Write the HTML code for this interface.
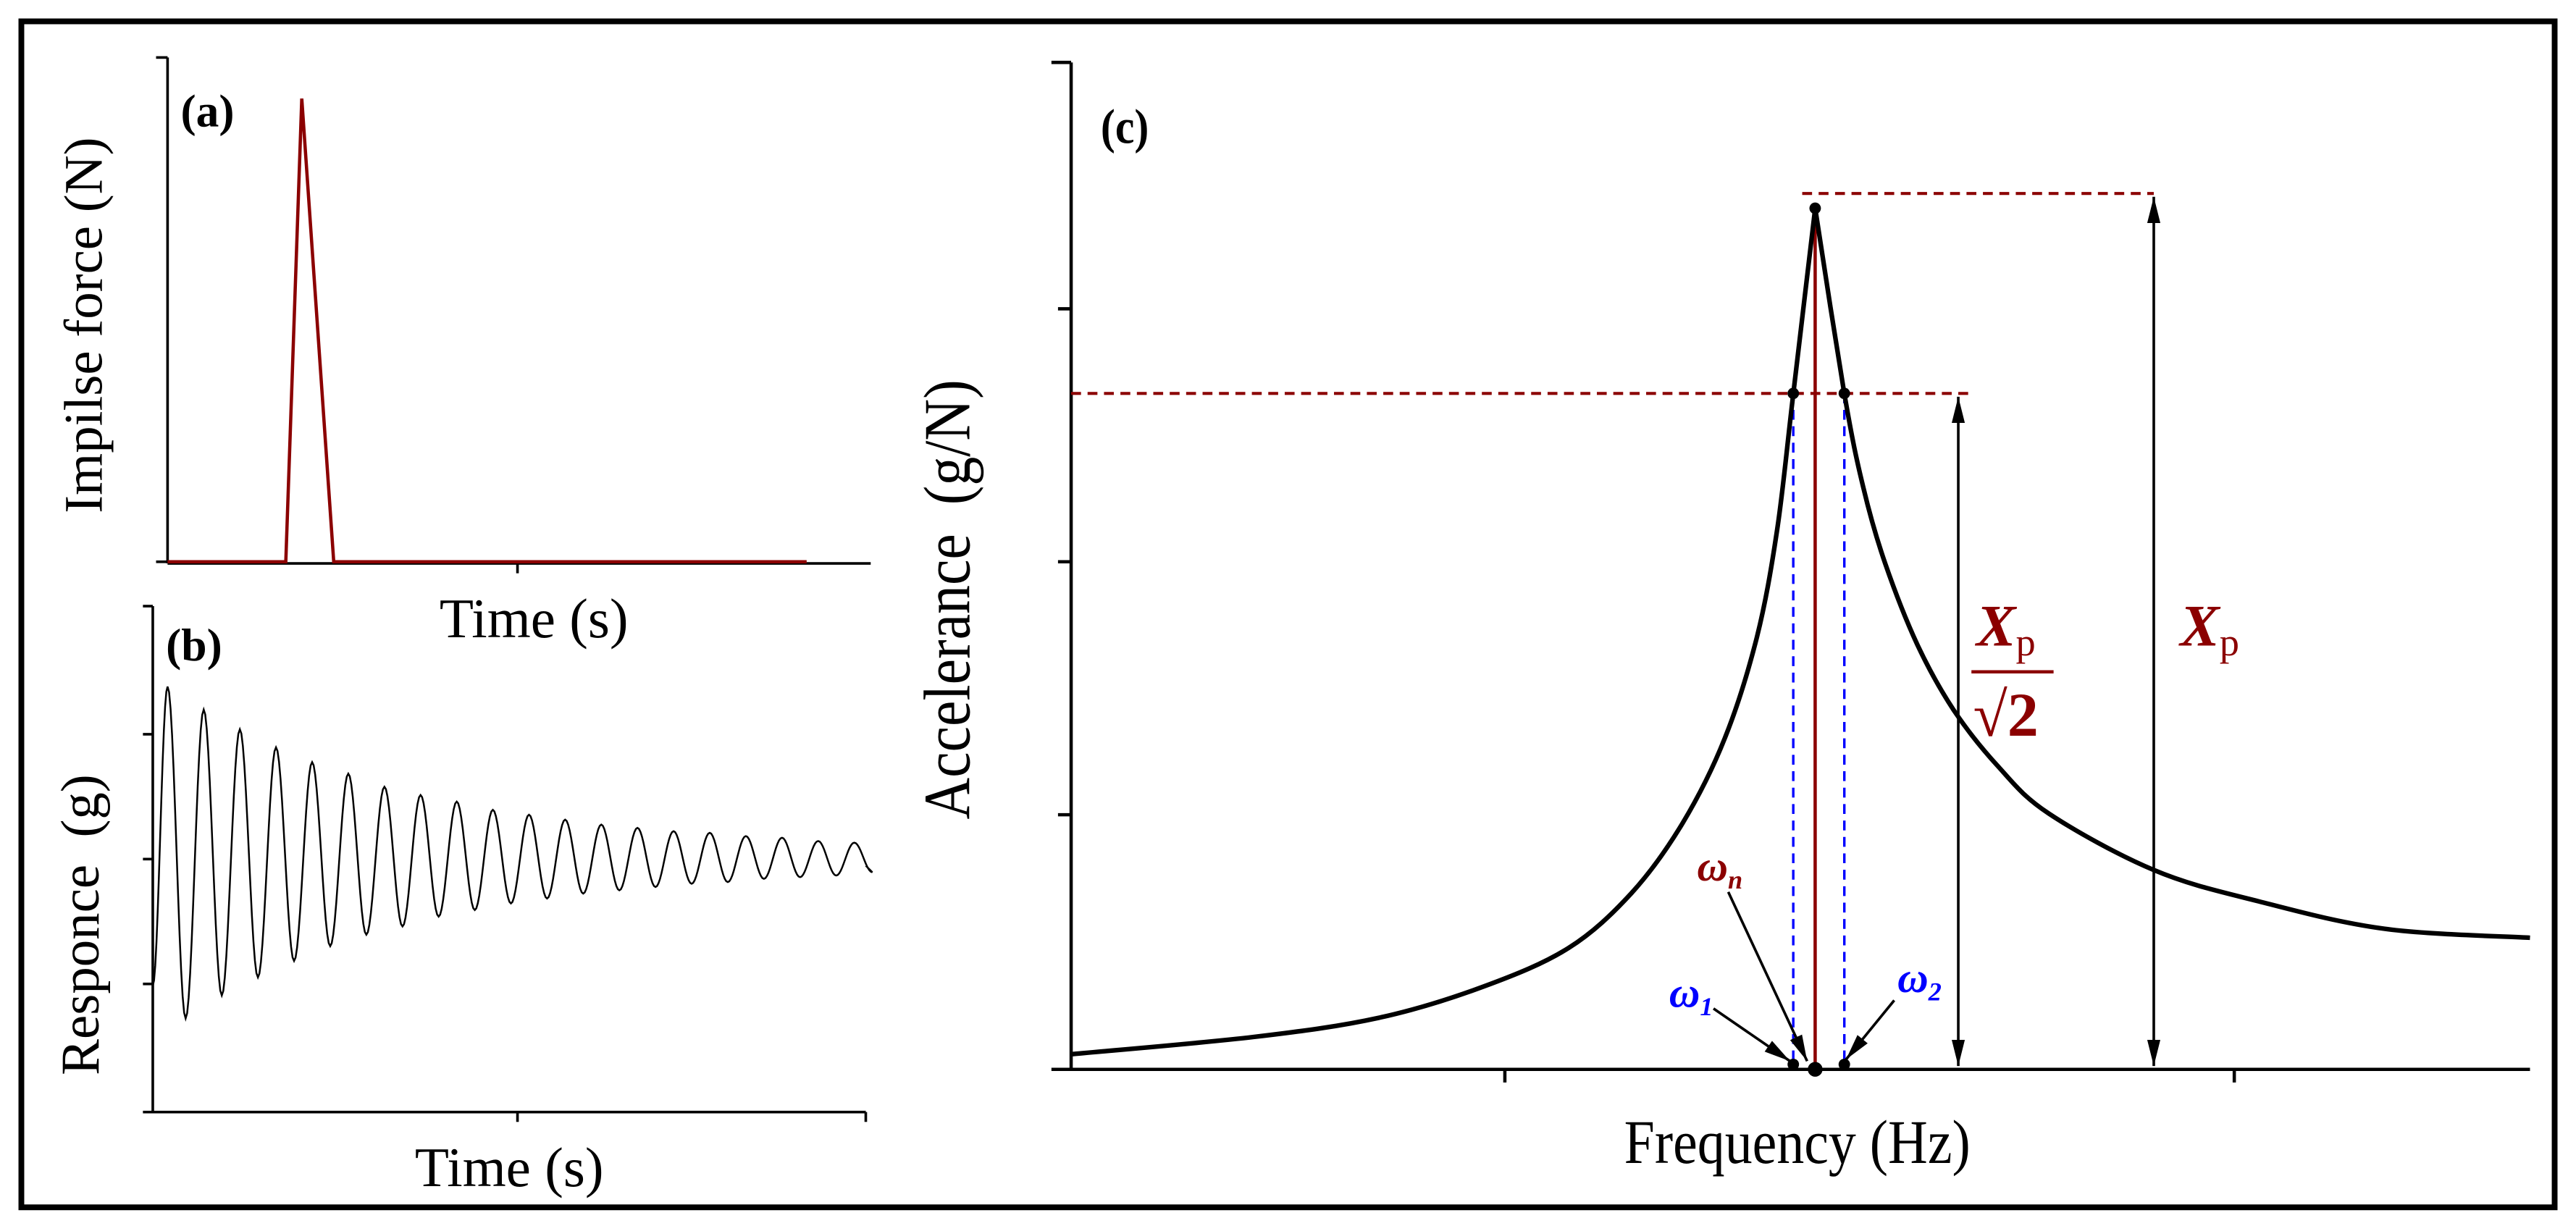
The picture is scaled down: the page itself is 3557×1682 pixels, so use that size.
<!DOCTYPE html>
<html><head><meta charset="utf-8"><style>
html,body{margin:0;padding:0;background:#fff}
svg{display:block}
text{font-family:"Liberation Serif",serif;white-space:pre}
</style></head><body>
<svg id="fig" width="3557" height="1682" viewBox="0 0 1568 741.5" preserveAspectRatio="none" xmlns="http://www.w3.org/2000/svg" xml:space="preserve">
<defs>
<marker id="ahb" viewBox="0 0 10 10" refX="10" refY="5" markerWidth="16" markerHeight="16" markerUnits="userSpaceOnUse" orient="auto-start-reverse"><path d="M0,2.5 L10,5 L0,7.5 z" fill="#000"/></marker>
</defs>
<rect x="13" y="13" width="1542" height="722" fill="none" stroke="#000" stroke-width="3.5"/>

<g>
<line x1="102" y1="35" x2="102" y2="343" stroke="#000" stroke-width="1.6"/>
<line x1="102" y1="343" x2="530" y2="343" stroke="#000" stroke-width="1.6"/>
<line x1="95" y1="35" x2="102" y2="35" stroke="#000" stroke-width="1.6"/>
<line x1="95" y1="342" x2="102" y2="342" stroke="#000" stroke-width="1.6"/>
<line x1="315" y1="343" x2="315" y2="349" stroke="#000" stroke-width="1.6"/>
<polyline id="impulse" fill="none" stroke="#8b0000" stroke-width="2"/>
<text x="110" y="77" font-size="28" font-weight="bold">(a)</text>
<text transform="translate(62,198) rotate(-90)" text-anchor="middle" font-size="33">Impilse force (N)</text>
<text x="325" y="388" text-anchor="middle" font-size="34">Time (s)</text>
</g>

<g>
<line x1="93" y1="369" x2="93" y2="677" stroke="#000" stroke-width="1.6"/>
<line x1="87" y1="677" x2="527" y2="677" stroke="#000" stroke-width="1.6"/>
<line x1="87" y1="369" x2="93" y2="369" stroke="#000" stroke-width="1.6"/>
<line x1="87" y1="447" x2="93" y2="447" stroke="#000" stroke-width="1.6"/>
<line x1="87" y1="523" x2="93" y2="523" stroke="#000" stroke-width="1.6"/>
<line x1="87" y1="599" x2="93" y2="599" stroke="#000" stroke-width="1.6"/>
<line x1="315" y1="677" x2="315" y2="683" stroke="#000" stroke-width="1.6"/>
<line x1="527" y1="677" x2="527" y2="683" stroke="#000" stroke-width="1.6"/>
<polyline id="resp" fill="none" stroke="#000" stroke-width="1.1"/>
<text x="101" y="402" font-size="28" font-weight="bold">(b)</text>
<text transform="translate(60,563) rotate(-90)" text-anchor="middle" font-size="33">Responce  (g)</text>
<text x="310" y="722" text-anchor="middle" font-size="34">Time (s)</text>
</g>

<g>
<line x1="652" y1="38" x2="652" y2="651" stroke="#000" stroke-width="2"/>
<line x1="640" y1="651" x2="1540" y2="651" stroke="#000" stroke-width="2"/>
<line x1="640" y1="38" x2="652" y2="38" stroke="#000" stroke-width="2"/>
<line x1="644" y1="188" x2="652" y2="188" stroke="#000" stroke-width="2"/>
<line x1="644" y1="342" x2="652" y2="342" stroke="#000" stroke-width="2"/>
<line x1="644" y1="496" x2="652" y2="496" stroke="#000" stroke-width="2"/>
<line x1="916" y1="651" x2="916" y2="659" stroke="#000" stroke-width="2"/>
<line x1="1360" y1="651" x2="1360" y2="659" stroke="#000" stroke-width="2"/>
<g id="cmarks"></g>
<text transform="translate(670,87) scale(0.88,1)" font-size="30" font-weight="bold">(c)</text>
<text transform="translate(590,365) rotate(-90) scale(0.88,1)" text-anchor="middle" font-size="40">Accelerance  (g/N)</text>
<text transform="translate(1094,708) scale(0.88,1)" text-anchor="middle" font-size="38">Frequency (Hz)</text>
<text x="1033" y="536" font-size="26" font-weight="bold" font-style="italic" fill="#8b0000">ω<tspan font-size="16" dy="5">n</tspan></text>
<text x="1016" y="613" font-size="26" font-weight="bold" font-style="italic" fill="#0000ff">ω<tspan font-size="16" dy="5">1</tspan></text>
<text x="1155" y="604" font-size="26" font-weight="bold" font-style="italic" fill="#0000ff">ω<tspan font-size="16" dy="5">2</tspan></text>
<text x="1203" y="393" font-size="36" font-weight="bold" font-style="italic" fill="#8b0000">X<tspan font-size="24" font-style="normal" font-weight="normal" dy="6">p</tspan></text>
<line x1="1200" y1="409" x2="1250" y2="409" stroke="#8b0000" stroke-width="2"/>
<text x="1201" y="448" font-size="38" font-weight="bold" fill="#8b0000">√2</text>
<text x="1327" y="393" font-size="36" font-weight="bold" font-style="italic" fill="#8b0000">X<tspan font-size="24" font-style="normal" font-weight="normal" dy="6">p</tspan></text>
</g>
</svg>
<script>
const impT = [0, 18.5, 21, 26, 100];
const impF = [0, 0, 100, 0, 0];
const respPeaks = [105,91,79,68,59,52,44,39,35,30,27,24,21,19,17,16,14,13,11,10];
const respTroughs = [97,83,72,62,53,46,41,35,31,27,24,21,19,17,15,14,12,11,10,8];
const freq = [0,12.5,21.1,28.3,34.1,38.4,41.9,44.8,47.0,48.4,49.5,51.0,53.0,54.3,55.8,58.0,60.5,63.5,67.0,74.2,81.4,90.0,100];
const accel = [1.5,3.2,5.1,8.2,12.0,17.4,24.3,32.7,42.7,53.4,66.8,85.1,66.8,57.5,50.0,42.0,35.5,30.0,25.3,19.7,16.6,13.9,13.0];
const peakF = 51.0, peakA = 85.1, halfA = 66.8, w1 = 49.5, w2 = 53.0;

const NS = 'http://www.w3.org/2000/svg';
const ax = t => 102 + t * (491 - 102) / 100;
const ay = f => 342 - f * (342 - 60) / 100;
document.getElementById('impulse').setAttribute('points', impT.map((t,i)=>ax(t)+','+ay(impF[i])).join(' '));

const bx0 = 93, period = 22, bcy = 523;
let pts = [];
let ext = [[bx0, bcy + 77]];
for (let i = 0; i < respPeaks.length; i++) {
  ext.push([bx0 + 9 + i * period, bcy - respPeaks[i]]);
  if (i < respTroughs.length) ext.push([bx0 + 9 + i * period + period / 2, bcy + respTroughs[i]]);
}
for (let k = 0; k < ext.length - 1; k++) {
  const [xa, ya] = ext[k], [xb, yb] = ext[k + 1];
  for (let s = 0; s < 12; s++) {
    const u = s / 12, w = (1 - Math.cos(Math.PI * u)) / 2;
    pts.push((xa + (xb - xa) * u).toFixed(2) + ',' + (ya + (yb - ya) * w).toFixed(2));
  }
}
const last = ext[ext.length - 1];
pts.push(last[0] + ',' + last[1]);
pts.push('527,' + (bcy + 4));
document.getElementById('resp').setAttribute('points', pts.join(' '));

const cx = f => 652 + f * (1540 - 652) / 100;
const cy = a => 651 - a * (651 - 35) / 100;
const g = document.getElementById('cmarks');
function mk(tag, attrs, name) {
  const el = document.createElementNS(NS, tag);
  for (const k in attrs) el.setAttribute(k, attrs[k]);
  
  
  g.appendChild(el); return el;
}
function spline(P) {
  let d = 'M' + P[0][0].toFixed(1) + ',' + P[0][1].toFixed(1);
  for (let i = 0; i < P.length - 1; i++) {
    const p0 = P[Math.max(0, i - 1)], p1 = P[i], p2 = P[i + 1], p3 = P[Math.min(P.length - 1, i + 2)];
    const c1 = [p1[0] + (p2[0] - p0[0]) / 6, p1[1] + (p2[1] - p0[1]) / 6];
    const c2 = [p2[0] - (p3[0] - p1[0]) / 6, p2[1] - (p3[1] - p1[1]) / 6];
    d += ' C' + c1.map(v=>v.toFixed(1)).join(',') + ' ' + c2.map(v=>v.toFixed(1)).join(',') + ' ' + p2[0].toFixed(1) + ',' + p2[1].toFixed(1);
  }
  return d;
}
const cp = freq.map((f,i)=>[cx(f), cy(accel[i])]);
const pk = freq.indexOf(peakF);
mk('line', {x1: cx(0), y1: cy(halfA), x2: 1201, y2: cy(halfA), stroke: '#8b0000', 'stroke-width': 1.8, 'stroke-dasharray': '6,4'}, 'half-power-dashed-line');
mk('line', {x1: 1097, y1: cy(peakA) - 9, x2: 1311, y2: cy(peakA) - 9, stroke: '#8b0000', 'stroke-width': 1.8, 'stroke-dasharray': '6,4'}, 'peak-dashed-line');
mk('line', {x1: cx(w1), y1: cy(halfA), x2: cx(w1), y2: 648, stroke: '#0000ff', 'stroke-width': 1.5, 'stroke-dasharray': '6,4'}, 'omega-1-dashed');
mk('line', {x1: cx(w2), y1: cy(halfA), x2: cx(w2), y2: 648, stroke: '#0000ff', 'stroke-width': 1.5, 'stroke-dasharray': '6,4'}, 'omega-2-dashed');
mk('line', {x1: cx(peakF), y1: cy(peakA), x2: cx(peakF), y2: 651, stroke: '#8b0000', 'stroke-width': 2}, 'omega-n-line');
mk('path', {d: spline(cp.slice(0, pk + 1)) + ' ' + spline(cp.slice(pk)).replace(/^M/, 'L'), fill: 'none', stroke: '#000', 'stroke-width': 2.8, 'stroke-linejoin': 'round'}, 'accelerance-curve');
[[peakF, peakA], [w1, halfA], [w2, halfA]].forEach(p => mk('circle', {cx: cx(p[0]), cy: cy(p[1]), r: 3.5, fill: '#000'}, 'curve-point'));
mk('circle', {cx: cx(w1), cy: 648, r: 3.5, fill: '#000'}, 'omega-1-dot');
mk('circle', {cx: cx(peakF), cy: 651, r: 4.5, fill: '#000'}, 'omega-n-dot');
mk('circle', {cx: cx(w2), cy: 648, r: 3.5, fill: '#000'}, 'omega-2-dot');
mk('line', {x1: 1192, y1: cy(halfA) + 2, x2: 1192, y2: 649, stroke: '#000', 'stroke-width': 1.6, 'marker-start': 'url(#ahb)', 'marker-end': 'url(#ahb)'}, 'half-power-arrow');
mk('line', {x1: 1311, y1: cy(peakA) - 7, x2: 1311, y2: 649, stroke: '#000', 'stroke-width': 1.6, 'marker-start': 'url(#ahb)', 'marker-end': 'url(#ahb)'}, 'peak-arrow');
mk('line', {x1: 1052, y1: 543, x2: 1100, y2: 646, stroke: '#000', 'stroke-width': 1.6, 'marker-end': 'url(#ahb)'}, 'omega-n-arrow');
mk('line', {x1: 1043, y1: 614, x2: cx(w1) - 2, y2: 646, stroke: '#000', 'stroke-width': 1.6, 'marker-end': 'url(#ahb)'}, 'omega-1-arrow');
mk('line', {x1: 1153, y1: 609, x2: cx(w2) + 1, y2: 645, stroke: '#000', 'stroke-width': 1.6, 'marker-end': 'url(#ahb)'}, 'omega-2-arrow');
</script>
</body></html>
